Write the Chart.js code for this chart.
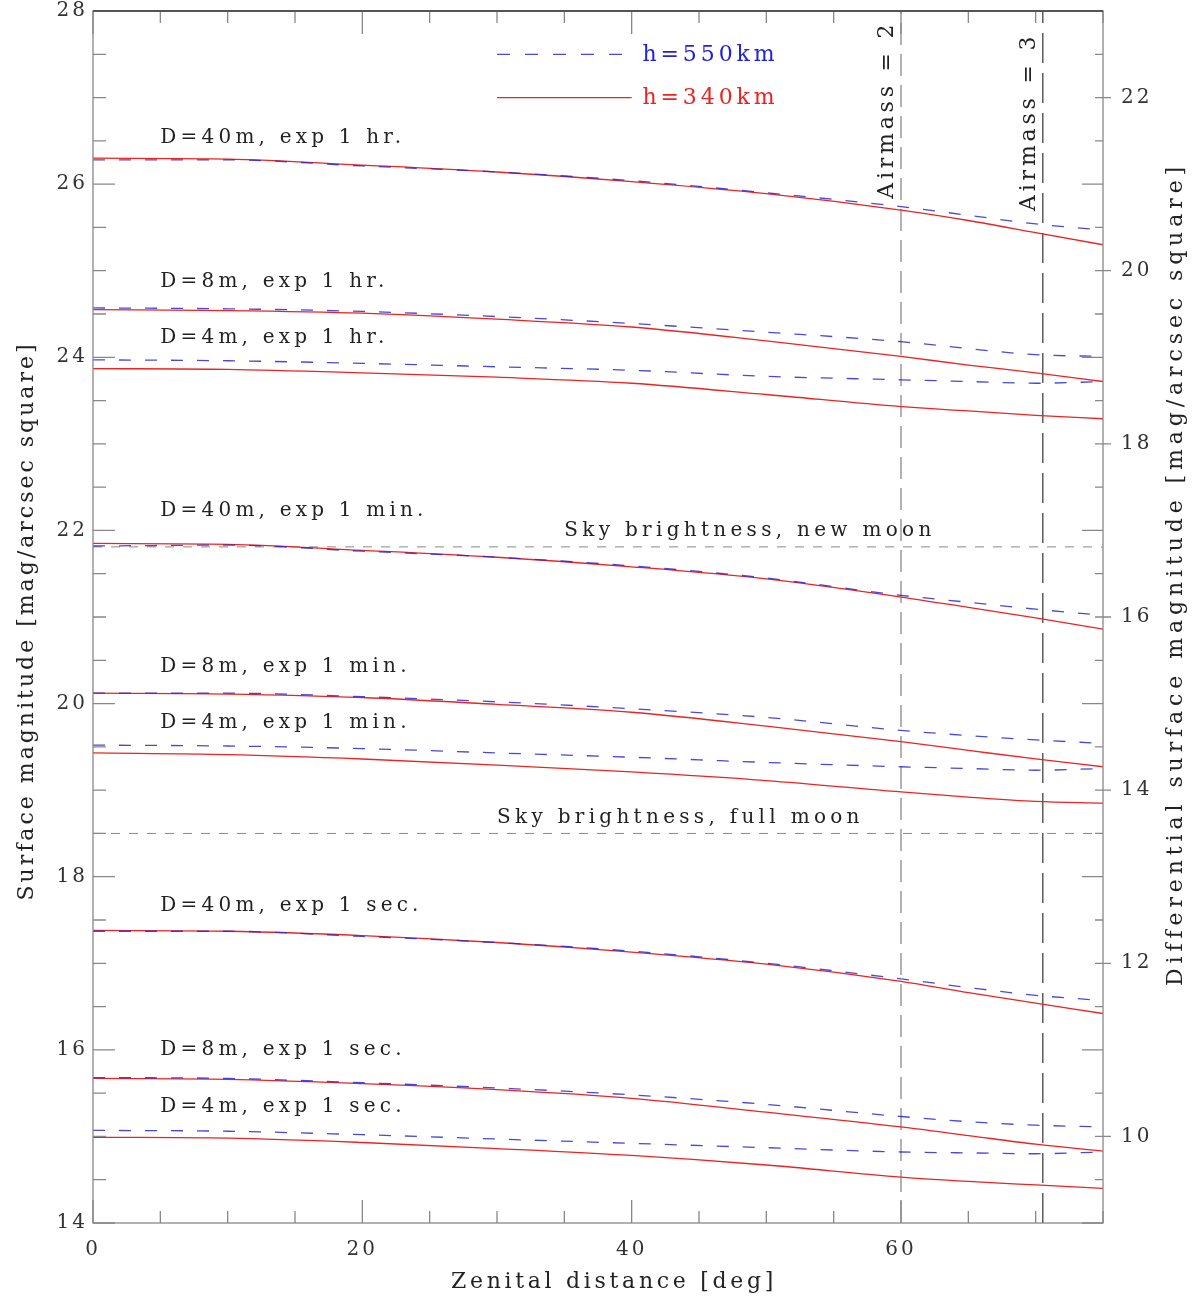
<!DOCTYPE html>
<html>
<head>
<meta charset="utf-8">
<title>Surface magnitude vs zenital distance</title>
<script src="https://cdn.jsdelivr.net/npm/chart.js@4.4.1/dist/chart.umd.min.js"></script>
<style>
    body { margin: 0; background: #fff; }
    #wrap { width: 1192px; height: 1297px; }
</style>
</head>
<body>
<div id="wrap"><canvas id="chart" width="1192" height="1297"></canvas></div>
<script>
// Zenital distance samples [deg]
const zenith = [0, 10, 20, 30, 40, 50, 60, 65, 70, 75];

// Surface magnitude, orbit h=340km (solid red)
const d40Hr340  = [26.30, 26.29, 26.22, 26.14, 26.03, 25.89, 25.70, 25.58, 25.44, 25.30];
const d8Hr340   = [24.55, 24.54, 24.51, 24.44, 24.35, 24.19, 24.01, 23.91, 23.82, 23.72];
const d4Hr340   = [23.87, 23.86, 23.82, 23.77, 23.70, 23.57, 23.43, 23.38, 23.33, 23.29];
const d40Min340 = [21.85, 21.84, 21.77, 21.69, 21.58, 21.44, 21.23, 21.11, 20.99, 20.86];
const d8Min340  = [20.12, 20.11, 20.07, 19.99, 19.90, 19.74, 19.56, 19.46, 19.36, 19.27];
const d4Min340  = [19.43, 19.41, 19.36, 19.29, 19.21, 19.11, 18.98, 18.92, 18.87, 18.85];
const d40Sec340 = [17.38, 17.37, 17.32, 17.24, 17.13, 16.99, 16.79, 16.66, 16.54, 16.42];
const d8Sec340  = [15.67, 15.66, 15.61, 15.54, 15.44, 15.28, 15.11, 15.01, 14.91, 14.83];
const d4Sec340  = [14.99, 14.98, 14.93, 14.86, 14.78, 14.67, 14.53, 14.48, 14.44, 14.40];

// Surface magnitude, orbit h=550km (dashed blue)
const d40Hr550  = [26.28, 26.28, 26.21, 26.14, 26.04, 25.90, 25.74, 25.64, 25.54, 25.47];
const d8Hr550   = [24.57, 24.56, 24.53, 24.47, 24.39, 24.29, 24.18, 24.10, 24.03, 24.01];
const d4Hr550   = [23.97, 23.96, 23.93, 23.89, 23.85, 23.78, 23.74, 23.72, 23.70, 23.72];
const d40Min550 = [21.82, 21.83, 21.76, 21.69, 21.59, 21.45, 21.25, 21.17, 21.09, 21.02];
const d8Min550  = [20.12, 20.12, 20.08, 20.02, 19.94, 19.84, 19.69, 19.63, 19.58, 19.54];
const d4Min550  = [19.52, 19.51, 19.48, 19.43, 19.38, 19.32, 19.27, 19.25, 19.23, 19.25];
const d40Sec550 = [17.37, 17.37, 17.31, 17.24, 17.14, 17.00, 16.82, 16.72, 16.63, 16.57];
const d8Sec550  = [15.68, 15.67, 15.62, 15.56, 15.48, 15.37, 15.23, 15.17, 15.13, 15.11];
const d4Sec550  = [15.07, 15.06, 15.02, 14.97, 14.92, 14.87, 14.82, 14.81, 14.80, 14.82];

// Curve labels and the magnitude they sit at (text baseline), x = 5 deg
const curveLabels = ['D=40m, exp 1 hr.', 'D=8m, exp 1 hr.', 'D=4m, exp 1 hr.',
                     'D=40m, exp 1 min.', 'D=8m, exp 1 min.', 'D=4m, exp 1 min.',
                     'D=40m, exp 1 sec.', 'D=8m, exp 1 sec.', 'D=4m, exp 1 sec.'];
const curveLabelMag = [26.47, 24.81, 24.16, 22.17, 20.36, 19.72, 17.60, 15.94, 15.28];

// Reference levels
const skyNewMoon = 21.81;
const skyFullMoon = 18.50;
const airmassZenith = [60, 70.53];
const airmassLabels = ['Airmass = 2', 'Airmass = 3'];

// Axis ticks
const xTicks = [0, 20, 40, 60];
const yTicks = [14, 16, 18, 20, 22, 24, 26, 28];
const y2Ticks = [10, 12, 14, 16, 18, 20, 22];

const SERIF = "'DejaVu Serif', serif";
const RED = '#ee2222';
const BLUE = 'rgba(40, 40, 215, 0.85)';

const pairs = [
    [d40Hr550, d40Hr340], [d8Hr550, d8Hr340], [d4Hr550, d4Hr340],
    [d40Min550, d40Min340], [d8Min550, d8Min340], [d4Min550, d4Min340],
    [d40Sec550, d40Sec340], [d8Sec550, d8Sec340], [d4Sec550, d4Sec340]
];

const toPoints = arr => zenith.map((z, i) => ({ x: z, y: arr[i] }));

const datasets = [];
pairs.forEach(([blue, red], i) => {
    datasets.push({
        label: 'h=550km ' + curveLabels[i],
        data: toPoints(blue),
        borderColor: BLUE,
        borderWidth: 1.3,
        borderDash: [12, 14],
        pointRadius: 0,
        cubicInterpolationMode: 'monotone',
        order: 0
    });
    datasets.push({
        label: 'h=340km ' + curveLabels[i],
        data: toPoints(red),
        borderColor: RED,
        borderWidth: 1.3,
        pointRadius: 0,
        cubicInterpolationMode: 'monotone',
        order: 1
    });
});

// Sky brightness levels
[skyNewMoon, skyFullMoon].forEach(level => {
    datasets.push({
        label: 'sky',
        data: [{ x: 0, y: level }, { x: 75, y: level }],
        borderColor: '#888',
        borderWidth: 1,
        borderDash: [9, 9],
        pointRadius: 0,
        order: 2
    });
});

// Airmass lines
airmassZenith.forEach((z, i) => {
    datasets.push({
        label: 'airmass',
        data: [{ x: z, y: 14 }, { x: z, y: 28 }],
        borderColor: i === 0 ? '#666' : '#444',
        borderWidth: i === 0 ? 1 : 1.3,
        borderDash: i === 0 ? [22, 9] : [30, 10],
        pointRadius: 0,
        order: 2
    });
});

function drawSpaced(ctx, text, x, y, font, spacing, color, align, rotate, baseline) {
    ctx.save();
    ctx.font = font;
    ctx.fillStyle = color;
    ctx.letterSpacing = spacing + 'px';
    ctx.textAlign = align || 'left';
    ctx.textBaseline = baseline || 'alphabetic';
    ctx.translate(x, y);
    if (rotate) ctx.rotate(-Math.PI / 2);
    ctx.fillText(text, 0, 0);
    ctx.restore();
}

// Frame and IDL-style inward tick marks
const frameTicks = {
    id: 'frameTicks',
    beforeDraw(chart) {
        chart.ctx.letterSpacing = '3px';
    },
    afterDatasetsDraw(chart) {
        const { ctx, chartArea: a, scales: { x, y, y2 } } = chart;
        ctx.save();
        ctx.strokeStyle = '#888';
        ctx.lineWidth = 1.3;
        ctx.beginPath();
        for (let v = 0; v <= 75; v += 5) {
            const px = x.getPixelForValue(v);
            const len = v % 20 === 0 ? 23 : 12;
            ctx.moveTo(px, a.bottom); ctx.lineTo(px, a.bottom - len);
            ctx.moveTo(px, a.top); ctx.lineTo(px, a.top + len);
        }
        for (let v = 14; v <= 28; v += 0.5) {
            const py = y.getPixelForValue(v);
            const major = v % 2 === 0;
            ctx.moveTo(a.left, py); ctx.lineTo(a.left + (major ? 22 : 13), py);
            ctx.moveTo(a.right, py); ctx.lineTo(a.right - (major ? 21 : 8), py);
        }
        y2Ticks.forEach(v => {
            const py = y2.getPixelForValue(v);
            ctx.moveTo(a.right - 8, py); ctx.lineTo(a.right + 8, py);
        });
        ctx.stroke();
        ctx.strokeRect(a.left, a.top, a.right - a.left, a.bottom - a.top);
        ctx.strokeStyle = '#555';
        ctx.lineWidth = 1.8;
        ctx.beginPath();
        ctx.moveTo(a.left, a.top); ctx.lineTo(a.right, a.top);
        ctx.stroke();
        ctx.restore();

        // right axis tick labels
        y2Ticks.forEach(v => {
            drawSpaced(ctx, String(v), a.right + 18, y2.getPixelForValue(v), '20px ' + SERIF,
                       3, '#333', 'left', false, 'middle');
        });
    }
};

// Texts: curve labels, legend, reference labels, axis titles
const annotations = {
    id: 'annotations',
    afterDraw(chart) {
        const { ctx, scales: { x, y } } = chart;
        const labelFont = '20px ' + SERIF;
        curveLabels.forEach((t, i) => {
            drawSpaced(ctx, t, x.getPixelForValue(5), y.getPixelForValue(curveLabelMag[i]),
                       labelFont, 4.2, '#222');
        });
        drawSpaced(ctx, 'Sky brightness, new moon', x.getPixelForValue(35.0),
                   y.getPixelForValue(21.94), labelFont, 4.3, '#222');
        drawSpaced(ctx, 'Sky brightness, full moon', x.getPixelForValue(30.0),
                   y.getPixelForValue(18.62), labelFont, 4.3, '#222');

        // legend
        const lx0 = x.getPixelForValue(30), lx1 = x.getPixelForValue(40);
        ctx.save();
        ctx.lineWidth = 1.3;
        ctx.strokeStyle = BLUE;
        ctx.setLineDash([13, 15]);
        ctx.beginPath();
        ctx.moveTo(lx0, y.getPixelForValue(27.5)); ctx.lineTo(lx1, y.getPixelForValue(27.5));
        ctx.stroke();
        ctx.strokeStyle = RED;
        ctx.setLineDash([]);
        ctx.beginPath();
        ctx.moveTo(lx0, y.getPixelForValue(27.0)); ctx.lineTo(lx1, y.getPixelForValue(27.0));
        ctx.stroke();
        ctx.restore();
        const legendFont = '22px ' + SERIF;
        drawSpaced(ctx, 'h=550km', x.getPixelForValue(40.8), y.getPixelForValue(27.42),
                   legendFont, 3.9, '#2222dd');
        drawSpaced(ctx, 'h=340km', x.getPixelForValue(40.8), y.getPixelForValue(26.92),
                   legendFont, 3.9, '#ee2222');

        // airmass labels
        airmassLabels.forEach((t, i) => {
            drawSpaced(ctx, t, x.getPixelForValue(airmassZenith[i] - 0.6),
                       y.getPixelForValue(i === 0 ? 26.86 : 26.72), legendFont, 3.8, '#222', 'center', true);
        });

        // axis titles
        const titleFont = '22px ' + SERIF;
        drawSpaced(ctx, 'Zenital distance [deg]', 614, 1288, titleFont, 3.7, '#222', 'center');
        drawSpaced(ctx, 'Surface magnitude [mag/arcsec square]', 33, 621, titleFont, 3.0, '#222', 'center', true);
        drawSpaced(ctx, 'Differential surface magnitude [mag/arcsec square]', 1182, 574, titleFont, 4.9, '#222', 'center', true);
    }
};

const tickFont = { family: SERIF, size: 20 };

new Chart(document.getElementById('chart'), {
    type: 'line',
    data: { datasets },
    options: {
        responsive: false,
        animation: false,
        layout: { padding: { top: 11, left: 0, right: 0, bottom: 0 } },
        plugins: { legend: { display: false }, tooltip: { enabled: false } },
        scales: {
            x: {
                type: 'linear', min: 0, max: 75,
                grid: { display: false, drawTicks: false },
                border: { display: false },
                ticks: { font: tickFont, color: '#333', padding: 15 },
                afterBuildTicks: s => { s.ticks = xTicks.map(v => ({ value: v })); },
                afterFit: s => { s.height = 74; s.paddingLeft = 0; s.paddingRight = 0; }
            },
            y: {
                type: 'linear', min: 14, max: 28, position: 'left',
                grid: { display: false, drawTicks: false },
                border: { display: false },
                ticks: { font: tickFont, color: '#333', padding: 5 },
                afterBuildTicks: s => { s.ticks = yTicks.map(v => ({ value: v })); },
                afterFit: s => { s.width = 93; s.paddingTop = 0; s.paddingBottom = 0; }
            },
            y2: {
                type: 'linear', min: 9, max: 23, position: 'right',
                grid: { display: false, drawTicks: false },
                border: { display: false },
                ticks: { display: false },
                afterBuildTicks: s => { s.ticks = y2Ticks.map(v => ({ value: v })); },
                afterFit: s => { s.width = 89; s.paddingTop = 0; s.paddingBottom = 0; }
            }
        }
    },
    plugins: [frameTicks, annotations]
});
</script>
</body>
</html>
